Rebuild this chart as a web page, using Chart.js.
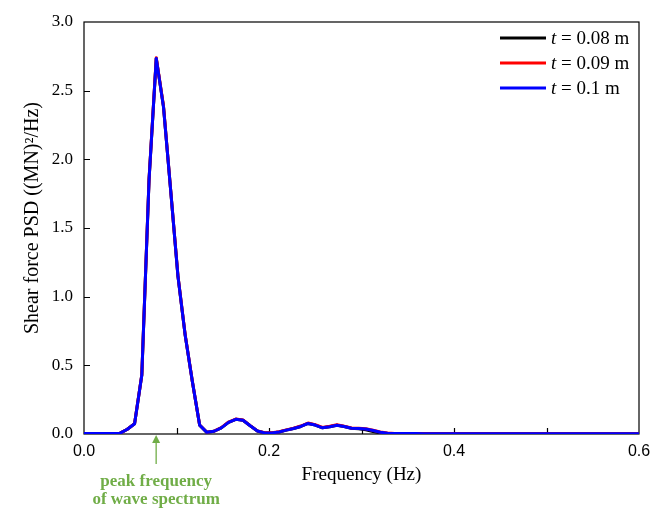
<!DOCTYPE html>
<html>
<head>
<meta charset="utf-8">
<script src="https://cdn.jsdelivr.net/npm/chart.js@4.4.0/dist/chart.umd.min.js"></script>
<style>
  body { margin: 0; background: #fff; }
  canvas { display: block; }
</style>
</head>
<body>
<canvas id="chart" width="664" height="511"></canvas>
<script>
// frequency grid: PSD bins every 1/128 Hz
const freqStep = 1 / 128;

const seriesLabels = ['t = 0.08 m', 't = 0.09 m', 't = 0.1 m'];
const seriesColors = ['#000000', '#ff0000', '#0000ff'];

const psd008 = [0.004, 0.004, 0.003, 0.003, 0.003, 0.006, 0.035, 0.075, 0.43, 1.85,
  2.735, 2.385, 1.77, 1.15, 0.72, 0.38, 0.065, 0.012, 0.02, 0.045,
  0.085, 0.107, 0.1, 0.06, 0.022, 0.008, 0.008, 0.015, 0.028, 0.04,
  0.055, 0.077, 0.065, 0.045, 0.053, 0.064, 0.054, 0.042, 0.038, 0.03,
  0.018, 0.008, 0.004, 0.003, 0.003, 0.003, 0.003, 0.002, 0.002, 0.002,
  0.002, 0.002, 0.002, 0.002, 0.002, 0.001, 0.001, 0.001, 0.001, 0.001,
  0.001, 0.001, 0.001, 0.001, 0.001, 0.001, 0.001, 0.001, 0.001, 0.001,
  0.001, 0.001, 0.001, 0.001, 0.001, 0.001, 0.001, 0.001];

const psd009 = [0.004, 0.004, 0.003, 0.003, 0.003, 0.006, 0.035, 0.076, 0.432, 1.855,
  2.74, 2.388, 1.773, 1.153, 0.723, 0.381, 0.066, 0.013, 0.021, 0.046,
  0.087, 0.109, 0.102, 0.061, 0.023, 0.009, 0.009, 0.016, 0.03, 0.042,
  0.058, 0.08, 0.068, 0.048, 0.056, 0.067, 0.057, 0.044, 0.042, 0.038,
  0.027, 0.014, 0.007, 0.004, 0.003, 0.003, 0.003, 0.002, 0.002, 0.002,
  0.002, 0.002, 0.002, 0.002, 0.002, 0.001, 0.001, 0.001, 0.001, 0.001,
  0.001, 0.001, 0.001, 0.001, 0.001, 0.001, 0.001, 0.001, 0.001, 0.001,
  0.001, 0.001, 0.001, 0.001, 0.001, 0.001, 0.001, 0.001];

const psd010 = [0.004, 0.004, 0.003, 0.003, 0.003, 0.006, 0.035, 0.075, 0.43, 1.85,
  2.735, 2.38, 1.77, 1.15, 0.72, 0.38, 0.065, 0.012, 0.02, 0.045,
  0.085, 0.107, 0.1, 0.06, 0.022, 0.008, 0.008, 0.015, 0.028, 0.04,
  0.055, 0.077, 0.065, 0.045, 0.053, 0.064, 0.054, 0.042, 0.04, 0.036,
  0.026, 0.013, 0.006, 0.004, 0.003, 0.003, 0.003, 0.002, 0.002, 0.002,
  0.002, 0.002, 0.002, 0.002, 0.002, 0.001, 0.001, 0.001, 0.001, 0.001,
  0.001, 0.001, 0.001, 0.001, 0.001, 0.001, 0.001, 0.001, 0.001, 0.001,
  0.001, 0.001, 0.001, 0.001, 0.001, 0.001, 0.001, 0.001];

const peakFreq = 0.078;
const noteLines = ['peak frequency', 'of wave spectrum'];
const noteColor = '#70ad47';

function toPoints(vals) {
  return vals.map(function (v, i) { return { x: i * freqStep, y: v }; });
}

const serif = 'Liberation Serif';

// frame, inward ticks, titles, legend and the green note
const decor = {
  id: 'decor',
  beforeDatasetsDraw(chart) {
    const ctx = chart.ctx;
    const a = chart.chartArea;
    const xs = chart.scales.x, ys = chart.scales.y;
    ctx.save();
    ctx.strokeStyle = '#000';
    ctx.lineWidth = 1.2;
    ctx.strokeRect(a.left, a.top, a.right - a.left, a.bottom - a.top);
    ctx.beginPath();
    for (let k = 1; k < 6; k++) {
      let px = Math.round(xs.getPixelForValue(k / 10)) + 0.5;
      ctx.moveTo(px, a.bottom); ctx.lineTo(px, a.bottom - 6);
    }
    for (let k = 1; k < 6; k++) {
      let py = Math.round(ys.getPixelForValue(k * 0.5)) + 0.5;
      ctx.moveTo(a.left, py); ctx.lineTo(a.left + 6, py);
    }
    ctx.stroke();
    ctx.restore();
  },
  afterDraw(chart) {
    const ctx = chart.ctx;
    const a = chart.chartArea;
    const xs = chart.scales.x;
    ctx.save();
    ctx.fillStyle = '#000';
    ctx.textAlign = 'center';
    ctx.textBaseline = 'middle';
    ctx.font = '19px "' + serif + '"';
    ctx.fillText('Frequency (Hz)', (a.left + a.right) / 2, 475);

    ctx.save();
    ctx.translate(33, 218);
    ctx.rotate(-Math.PI / 2);
    ctx.font = '20px "' + serif + '"';
    ctx.fillText('Shear force PSD ((MN)²/Hz)', 0, 0);
    ctx.restore();

    // legend
    ctx.textAlign = 'left';
    const rows = [38, 63, 88];
    seriesLabels.forEach(function (lab, i) {
      ctx.strokeStyle = seriesColors[i];
      ctx.lineWidth = 3;
      ctx.beginPath();
      ctx.moveTo(500, rows[i]); ctx.lineTo(546, rows[i]);
      ctx.stroke();
      ctx.font = 'italic 19px "' + serif + '"';
      ctx.fillText(lab.charAt(0), 551, rows[i] + 1);
      let w = ctx.measureText(lab.charAt(0)).width;
      ctx.font = '19px "' + serif + '"';
      ctx.fillText(lab.slice(1), 551 + w, rows[i] + 1);
    });

    // peak frequency note
    const px = xs.getPixelForValue(peakFreq);
    ctx.strokeStyle = noteColor;
    ctx.fillStyle = noteColor;
    ctx.lineWidth = 1.3;
    ctx.beginPath();
    ctx.moveTo(px, 464); ctx.lineTo(px, 441);
    ctx.stroke();
    ctx.beginPath();
    ctx.moveTo(px, a.bottom + 1);
    ctx.lineTo(px - 4, a.bottom + 9);
    ctx.lineTo(px + 4, a.bottom + 9);
    ctx.closePath();
    ctx.fill();
    ctx.textAlign = 'center';
    ctx.font = 'bold 17px "' + serif + '"';
    ctx.fillText(noteLines[0], px, 482);
    ctx.fillText(noteLines[1], px, 500);
    ctx.restore();
  }
};

const seriesData = [psd008, psd009, psd010];

new Chart(document.getElementById('chart').getContext('2d'), {
  type: 'line',
  data: {
    datasets: seriesData.map(function (vals, i) {
      return {
        label: seriesLabels[i],
        data: toPoints(vals),
        borderColor: seriesColors[i],
        borderWidth: 3,
        pointRadius: 0,
        tension: 0,
        borderJoinStyle: 'round',
        order: 2 - i
      };
    })
  },
  options: {
    responsive: false,
    animation: false,
    layout: { padding: { top: 22, right: 25, left: 0, bottom: 0 } },
    plugins: { legend: { display: false }, tooltip: { enabled: false } },
    scales: {
      x: {
        type: 'linear',
        min: 0,
        max: 0.6,
        grid: { display: false, drawTicks: false },
        border: { display: false },
        afterFit: function (s) { s.height = 77; },
        ticks: {
          stepSize: 0.1,
          padding: 8,
          color: '#000',
          maxRotation: 0,
          font: { family: 'Liberation Sans', size: 16 },
          callback: function (v) {
            return Math.round(v * 10) % 2 === 0 ? v.toFixed(1) : '';
          }
        }
      },
      y: {
        min: 0,
        max: 3,
        grid: { display: false, drawTicks: false },
        border: { display: false },
        afterFit: function (s) { s.width = 84; },
        ticks: {
          stepSize: 0.5,
          padding: 11,
          color: '#000',
          font: { family: serif, size: 17 },
          callback: function (v) { return v.toFixed(1); }
        }
      }
    }
  },
  plugins: [decor]
});
</script>
</body>
</html>
